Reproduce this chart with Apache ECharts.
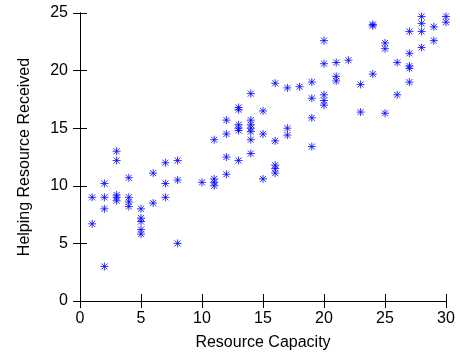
<!DOCTYPE html>
<html>
<head>
<meta charset="utf-8">
<script src="https://cdn.jsdelivr.net/npm/echarts@6/dist/echarts.min.js"></script>
<style>
  html, body { margin: 0; padding: 0; background: #fff; }
  #chart { width: 460px; height: 356px; }
</style>
</head>
<body>
<div id="chart"></div>
<script>
  // resource capacity (x) and helping resource received (y)
  const capacity = [
    1, 1,
    2, 2, 2, 2,
    3, 3, 3, 3, 3,
    4, 4, 4, 4,
    5, 5, 5, 5, 5,
    6, 6,
    7, 7, 7,
    8, 8, 8,
    10,
    11, 11, 11, 11,
    12, 12, 12, 12,
    13, 13, 13, 13, 13, 13,
    14, 14, 14, 14, 14, 14, 14,
    15, 15, 15,
    16, 16, 16, 16, 16,
    17, 17, 17,
    18,
    19, 19, 19, 19,
    20, 20, 20, 20, 20,
    21, 21, 21,
    22,
    23, 23,
    24, 24, 24,
    25, 25, 25,
    26, 26,
    27, 27, 27, 27, 27,
    28, 28, 28, 28,
    29, 29,
    30, 30
  ];
  const received = [
    9.0, 6.7,
    10.2, 9.0, 8.0, 3.0,
    13.0, 12.2, 9.2, 9.0, 8.7,
    10.7, 9.0, 8.6, 8.2,
    8.0, 7.2, 6.9, 6.2, 5.8,
    11.1, 8.5,
    12.0, 10.2, 9.0,
    12.2, 10.5, 5.0,
    10.3,
    14.0, 10.6, 10.3, 10.0,
    15.7, 14.5, 12.5, 11.0,
    16.8, 16.6, 15.3, 15.0, 14.8, 12.2,
    18.0, 15.7, 15.3, 15.0, 14.7, 14.0, 12.8,
    16.5, 14.5, 10.6,
    18.9, 13.9, 11.8, 11.5, 11.1,
    18.5, 15.0, 14.4,
    18.6,
    19.0, 17.6, 15.9, 13.4,
    22.6, 20.6, 17.9, 17.4, 17.0,
    20.7, 19.5, 19.1,
    20.9,
    18.8, 16.4,
    24.0, 23.9, 19.7,
    22.4, 21.9, 16.3,
    20.7, 17.9,
    23.4, 21.5, 20.4, 20.2, 19.0,
    24.7, 24.1, 23.4, 22.0,
    23.8, 22.6,
    24.7, 24.2
  ];
  const xTicks = { min: 0, max: 30, step: 5 };
  const yTicks = { min: 0, max: 25, step: 5 };

  const points = capacity.map((x, i) => [x, received[i]]);

  const font = "Liberation Sans, Arial, sans-serif";
  const tickStyle = { show: true, inside: true, length: 7, lineStyle: { color: "#000", width: 1 } };
  const lineStyle = { show: true, lineStyle: { color: "#000", width: 1 } };

  const chart = echarts.init(document.getElementById("chart"), null, { renderer: "canvas" });
  chart.setOption({
    animation: false,
    backgroundColor: "#fff",
    grid: { left: 80, right: 14, top: 13, bottom: 52 },
    xAxis: [
      {
        type: "value",
        min: xTicks.min,
        max: xTicks.max,
        interval: xTicks.step,
        name: "Resource Capacity",
        nameLocation: "middle",
        nameGap: 34,
        nameTextStyle: { color: "#000", fontSize: 16, fontFamily: font },
        axisLine: lineStyle,
        axisTick: tickStyle,
        axisLabel: { color: "#000", fontSize: 16, fontFamily: font, margin: 10 },
        splitLine: { show: false }
      },
      {
        type: "value",
        position: "top",
        min: xTicks.min,
        max: xTicks.max,
        interval: xTicks.step,
        axisLine: lineStyle,
        axisTick: tickStyle,
        axisLabel: { show: false },
        splitLine: { show: false }
      }
    ],
    yAxis: [
      {
        type: "value",
        min: yTicks.min,
        max: yTicks.max,
        interval: yTicks.step,
        name: "Helping Resource Received",
        nameLocation: "middle",
        nameGap: 47,
        nameTextStyle: { color: "#000", fontSize: 16, fontFamily: font },
        axisLine: lineStyle,
        axisTick: tickStyle,
        axisLabel: { color: "#000", fontSize: 16, fontFamily: font, margin: 12 },
        splitLine: { show: false }
      },
      {
        type: "value",
        position: "right",
        min: yTicks.min,
        max: yTicks.max,
        interval: yTicks.step,
        axisLine: lineStyle,
        axisTick: tickStyle,
        axisLabel: { show: false },
        splitLine: { show: false }
      }
    ],
    series: [
      {
        type: "scatter",
        data: points,
        clip: false,
        symbol: "path://M0,4L8,4M4,0L4,8M1,1L7,7M1,7L7,1",
        symbolSize: 8,
        itemStyle: { color: "transparent", borderColor: "#0000ff", borderWidth: 1 }
      }
    ]
  });
</script>
</body>
</html>
